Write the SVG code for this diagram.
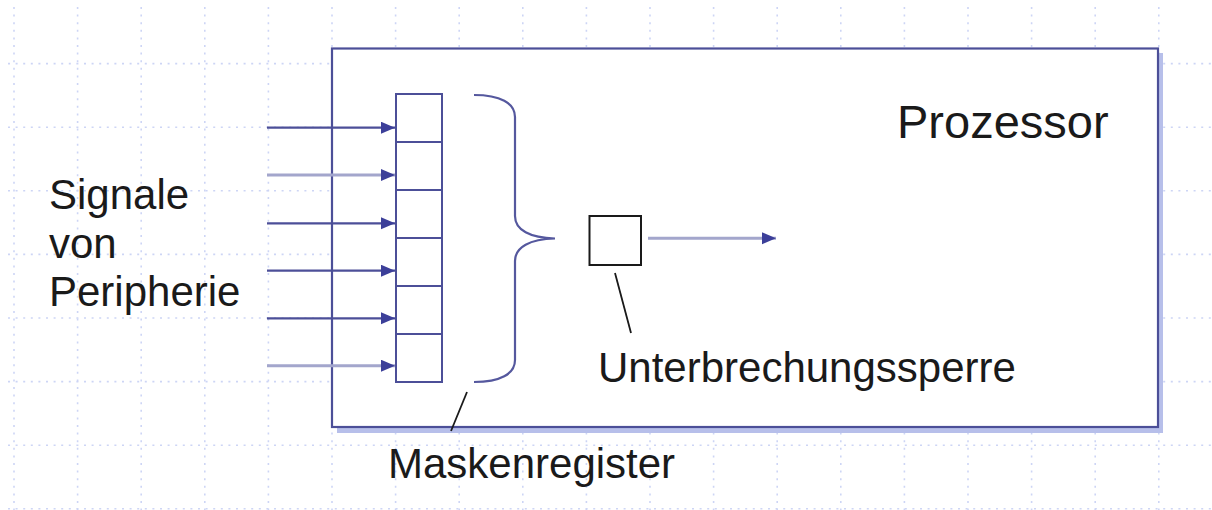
<svg xmlns="http://www.w3.org/2000/svg" width="1212" height="510" viewBox="0 0 1212 510">
  <style>
    .grid line { stroke: #cdd5f5; stroke-width: 1.6; stroke-dasharray: 2 5.6; }
    .box { fill: #ffffff; stroke: #4c4f98; stroke-width: 2.2; }
    .shadow { fill: #b7bfea; }
    .cell { fill: #ffffff; stroke: #4c4f98; stroke-width: 2; }
    .sig { stroke: #4c4f98; stroke-width: 2.2; fill: none; marker-end: url(#ah); }
    .sig.soft { stroke: #a3a6cc; stroke-width: 3; }
    .brace { stroke: #55589e; stroke-width: 2.2; fill: none; }
    .lead { stroke: #1a1a1a; stroke-width: 1.8; fill: none; }
    .lock { fill: #ffffff; stroke: #1a1a1a; stroke-width: 2; }
    text { font-family: "Liberation Sans", Arial, sans-serif; fill: #1a1a1a; }
  </style>
  <defs>
    <marker id="ah" markerUnits="userSpaceOnUse" markerWidth="16" markerHeight="14" refX="14" refY="6" orient="auto">
      <path d="M0,0 L14,6 L0,12 Z" fill="#3c3f99"/>
    </marker>
  </defs>

  <rect width="1212" height="510" fill="#ffffff"/>

  <!-- background grid -->
  <g class="grid">
    <line x1="14" y1="7" x2="14" y2="510"/>
    <line x1="77.6" y1="7" x2="77.6" y2="510"/>
    <line x1="141.2" y1="7" x2="141.2" y2="510"/>
    <line x1="204.8" y1="7" x2="204.8" y2="510"/>
    <line x1="268.4" y1="7" x2="268.4" y2="510"/>
    <line x1="332" y1="7" x2="332" y2="510"/>
    <line x1="395.6" y1="7" x2="395.6" y2="510"/>
    <line x1="459.2" y1="7" x2="459.2" y2="510"/>
    <line x1="522.8" y1="7" x2="522.8" y2="510"/>
    <line x1="586.4" y1="7" x2="586.4" y2="510"/>
    <line x1="650" y1="7" x2="650" y2="510"/>
    <line x1="713.6" y1="7" x2="713.6" y2="510"/>
    <line x1="777.2" y1="7" x2="777.2" y2="510"/>
    <line x1="840.8" y1="7" x2="840.8" y2="510"/>
    <line x1="904.4" y1="7" x2="904.4" y2="510"/>
    <line x1="968" y1="7" x2="968" y2="510"/>
    <line x1="1031.6" y1="7" x2="1031.6" y2="510"/>
    <line x1="1095.2" y1="7" x2="1095.2" y2="510"/>
    <line x1="1158.8" y1="7" x2="1158.8" y2="510"/>
    <line x1="8" y1="63.6" x2="1212" y2="63.6"/>
    <line x1="8" y1="127.2" x2="1212" y2="127.2"/>
    <line x1="8" y1="190.8" x2="1212" y2="190.8"/>
    <line x1="8" y1="254.4" x2="1212" y2="254.4"/>
    <line x1="8" y1="318" x2="1212" y2="318"/>
    <line x1="8" y1="381.6" x2="1212" y2="381.6"/>
    <line x1="8" y1="445.2" x2="1212" y2="445.2"/>
    <line x1="8" y1="508.8" x2="1212" y2="508.8"/>
  </g>

  <!-- processor frame -->
  <g id="prozessor">
    <rect class="shadow" x="337" y="53" width="826" height="380"/>
    <rect class="box" x="332" y="48.5" width="826" height="378.5"/>
    <text x="897" y="138" font-size="47">Prozessor</text>
  </g>

  <!-- input labels -->
  <g id="signale">
    <text font-size="42">
      <tspan x="49" y="209">Signale</tspan>
      <tspan x="49" y="258">von</tspan>
      <tspan x="49" y="306">Peripherie</tspan>
    </text>
  </g>

  <!-- mask register: six cells -->
  <g id="maskenregister">
    <rect class="cell" x="396" y="94" width="46" height="48"/>
    <rect class="cell" x="396" y="142" width="46" height="48"/>
    <rect class="cell" x="396" y="190" width="46" height="48"/>
    <rect class="cell" x="396" y="238" width="46" height="48"/>
    <rect class="cell" x="396" y="286" width="46" height="48"/>
    <rect class="cell" x="396" y="334" width="46" height="48"/>
    <path class="brace" d="M474,95 C500,95 515,103 515,117 L515,216 C515,230 530,238 555,238.5 C530,239 515,247 515,261 L515,360 C515,374 500,382 474,382"/>
    <line class="lead" x1="467" y1="392" x2="451" y2="431"/>
    <text x="388" y="478" font-size="42">Maskenregister</text>
  </g>

  <!-- interrupt lock -->
  <g id="unterbrechungssperre">
    <rect class="lock" x="589.5" y="216" width="51.5" height="49"/>
    <line class="lead" x1="615" y1="273" x2="631" y2="333"/>
    <text x="598" y="382" font-size="42">Unterbrechungssperre</text>
  </g>

  <!-- signal lines -->
  <g id="connectors">
    <line class="sig" x1="267" y1="127.7" x2="395" y2="127.7"/>
    <line class="sig soft" x1="267" y1="175" x2="395" y2="175"/>
    <line class="sig" x1="267" y1="223.3" x2="395" y2="223.3"/>
    <line class="sig" x1="267" y1="270.7" x2="395" y2="270.7"/>
    <line class="sig" x1="267" y1="318.3" x2="395" y2="318.3"/>
    <line class="sig soft" x1="267" y1="365.7" x2="395" y2="365.7"/>
    <line class="sig soft" x1="648" y1="238.3" x2="776" y2="238.3"/>
  </g>
</svg>
